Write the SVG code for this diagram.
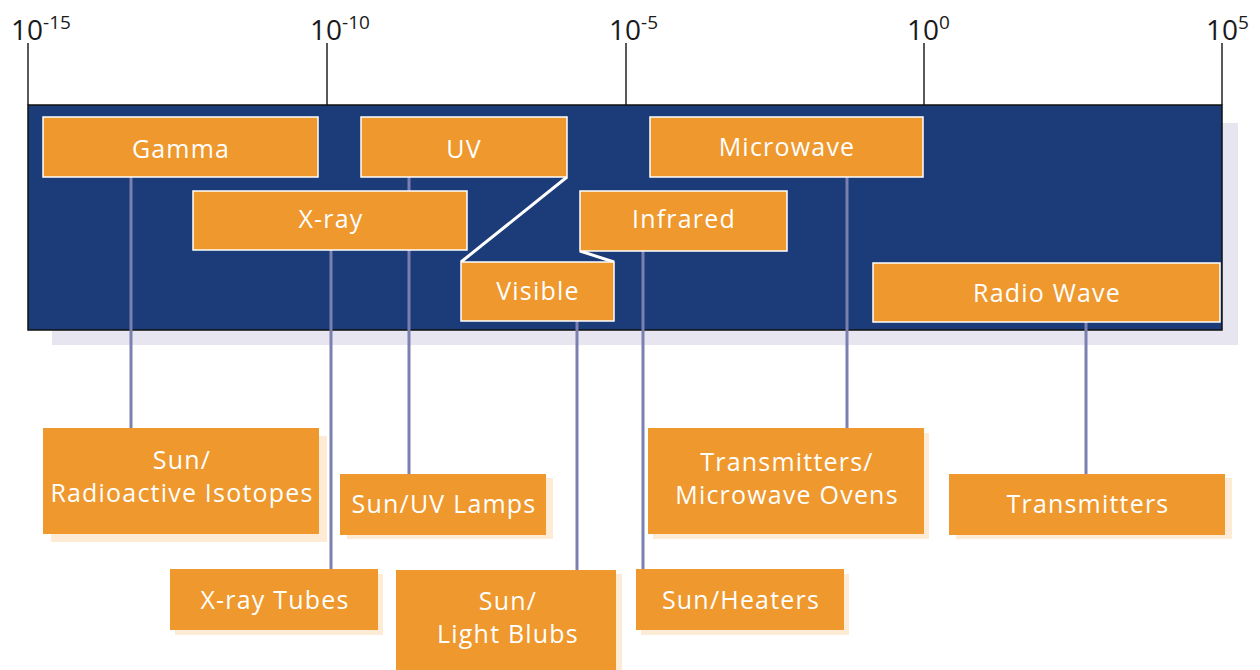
<svg xmlns="http://www.w3.org/2000/svg" width="1260" height="670" viewBox="0 0 1260 670">
<style>
.ax{font-family:"Open Sans","Liberation Sans",sans-serif;fill:#1a1a1a;font-size:28px}
.sup{font-size:19px}
.tick{stroke:#222;stroke-width:1.5}
.band{fill:#ee982d;stroke:#ffffff;stroke-width:1.5}
.src{fill:#ee982d}
.sh{fill:#fdebd6}
.lbl{font-family:"Open Sans","Liberation Sans",sans-serif;fill:#ffffff;font-size:25px;letter-spacing:1.2px;text-anchor:middle}
.con{stroke:#7b80b1;stroke-width:3;fill:none}
.zz{stroke:#ffffff;stroke-width:3;fill:none}
</style>
<rect width="1260" height="670" fill="#ffffff"/>
<g id="axis">
<line class="tick" x1="28" y1="43" x2="28" y2="105"/>
<line class="tick" x1="327" y1="43" x2="327" y2="105"/>
<line class="tick" x1="626" y1="43" x2="626" y2="105"/>
<line class="tick" x1="924" y1="43" x2="924" y2="105"/>
<line class="tick" x1="1222" y1="43" x2="1222" y2="105"/>
<text class="ax" x="11" y="40">10<tspan class="sup" dy="-11">-15</tspan></text>
<text class="ax" x="310" y="40">10<tspan class="sup" dy="-11">-10</tspan></text>
<text class="ax" x="609" y="40">10<tspan class="sup" dy="-11">-5</tspan></text>
<text class="ax" x="907" y="40">10<tspan class="sup" dy="-11">0</tspan></text>
<text class="ax" x="1206" y="40">10<tspan class="sup" dy="-11">5</tspan></text>
</g>
<g id="spectrum">
<rect x="52" y="123" width="1186" height="222" fill="#e6e5f0"/>
<rect x="28" y="105" width="1194" height="225" fill="#1b3c78" stroke="#111" stroke-width="1.5"/>
</g>
<g id="connectors">
<line class="con" x1="131" y1="177" x2="131" y2="428"/>
<line class="con" x1="331" y1="250" x2="331" y2="570"/>
<line class="con" x1="409" y1="177" x2="409" y2="474"/>
<line class="con" x1="577" y1="321" x2="577" y2="570"/>
<line class="con" x1="643" y1="251" x2="643" y2="570"/>
<line class="con" x1="847" y1="177" x2="847" y2="428"/>
<line class="con" x1="1086" y1="322" x2="1086" y2="474"/>
<polyline class="zz" points="567,177 461,262"/>
<polyline class="zz" points="580,251 614,262"/>
</g>
<g id="gamma"><rect class="band" x="43" y="117" width="275" height="60"/><text class="lbl" x="181" y="158">Gamma</text></g>
<g id="uv"><rect class="band" x="361" y="117" width="206" height="60"/><text class="lbl" x="464" y="158">UV</text></g>
<g id="xray"><rect class="band" x="193" y="191" width="274" height="59"/><text class="lbl" x="331" y="228">X-ray</text></g>
<g id="microwave"><rect class="band" x="650" y="117" width="273" height="60"/><text class="lbl" x="787" y="156">Microwave</text></g>
<g id="infrared"><rect class="band" x="580" y="191" width="207" height="60"/><text class="lbl" x="684" y="228">Infrared</text></g>
<g id="visible"><rect class="band" x="461" y="262" width="153" height="59"/><text class="lbl" x="538" y="300">Visible</text></g>
<g id="radio"><rect class="band" x="873" y="263" width="347" height="59"/><text class="lbl" x="1047" y="302">Radio Wave</text></g>
<g id="src-gamma"><rect class="sh" x="51" y="436" width="276" height="106"/><rect class="src" x="43" y="428" width="276" height="106"/><text class="lbl" x="182" y="469">Sun/</text><text class="lbl" x="182" y="502">Radioactive Isotopes</text></g>
<g id="src-xray"><rect class="sh" x="175" y="574" width="208" height="61"/><rect class="src" x="170" y="569" width="208" height="61"/><text class="lbl" x="275" y="609">X-ray Tubes</text></g>
<g id="src-uv"><rect class="sh" x="347" y="478" width="206" height="61"/><rect class="src" x="340" y="474" width="206" height="61"/><text class="lbl" x="444" y="513">Sun/UV Lamps</text></g>
<g id="src-visible"><rect class="sh" x="402" y="574" width="220" height="102"/><rect class="src" x="396" y="570" width="220" height="102"/><text class="lbl" x="508" y="610">Sun/</text><text class="lbl" x="508" y="643">Light Blubs</text></g>
<g id="src-infrared"><rect class="sh" x="641" y="574" width="208" height="61"/><rect class="src" x="636" y="569" width="208" height="61"/><text class="lbl" x="741" y="609">Sun/Heaters</text></g>
<g id="src-microwave"><rect class="sh" x="653" y="433" width="276" height="106"/><rect class="src" x="648" y="428" width="276" height="106"/><text class="lbl" x="787" y="471">Transmitters/</text><text class="lbl" x="787" y="504">Microwave Ovens</text></g>
<g id="src-radio"><rect class="sh" x="956" y="478" width="276" height="61"/><rect class="src" x="949" y="474" width="276" height="61"/><text class="lbl" x="1088" y="513">Transmitters</text></g>
</svg>
